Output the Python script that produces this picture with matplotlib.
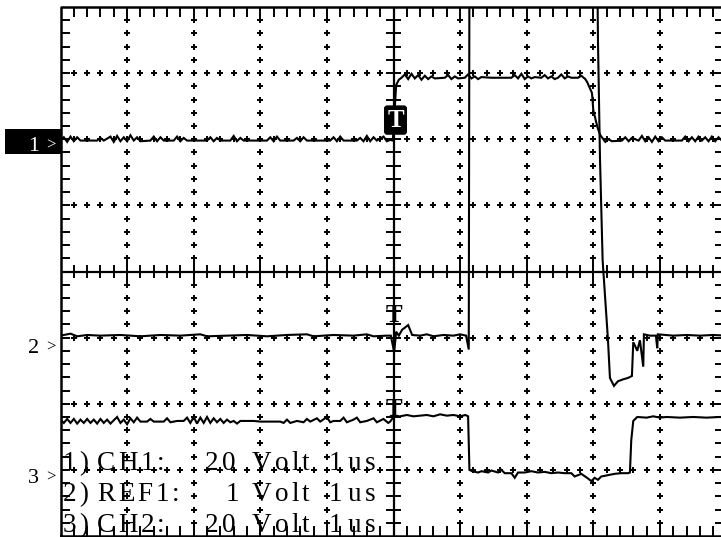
import numpy as np
import matplotlib
matplotlib.use("Agg")
import matplotlib.pyplot as plt
from matplotlib.patches import Rectangle

W, H = 721, 537
FONT = "Liberation Serif"

# scope screen: 10 div x 8 div, time in us (1 us/div), level in divisions
ch1_t = [0.00, 0.05, 0.10, 0.15, 0.20, 0.25, 0.30, 0.55, 0.60, 0.65, 0.75, 0.80, 0.85, 0.90,
         0.95, 1.00, 1.05, 1.10, 1.15, 1.20, 1.35, 1.40, 1.45, 1.50, 1.55, 1.70, 1.75, 1.80,
         1.85, 1.90, 2.20, 2.25, 2.30, 2.35, 2.40, 2.55, 2.60, 2.65, 2.70, 2.75, 3.10, 3.15,
         3.20, 3.25, 3.30, 3.50, 3.55, 3.60, 3.65, 3.70, 4.05, 4.10, 4.15, 4.20, 4.25, 4.45,
         4.50, 4.55, 4.60, 4.65, 4.70, 4.75, 4.85, 4.90, 4.95, 4.99, 5.04, 5.08, 5.12, 5.17,
         5.22, 5.27, 5.32, 5.37, 5.42, 5.47, 5.52, 5.57, 5.62, 5.77, 5.82, 5.87, 5.92, 5.97,
         6.07, 6.12, 6.17, 6.22, 6.27, 6.32, 6.47, 6.77, 6.82, 6.87, 6.92, 6.97, 7.02, 7.07,
         7.12, 7.22, 7.27, 7.32, 7.37, 7.42, 7.47, 7.52, 7.57, 7.62, 7.67, 7.77, 7.82, 7.88,
         7.91, 7.98, 8.00, 8.06, 8.10, 8.18, 8.23, 8.28, 8.43, 8.48, 8.53, 8.58, 8.68, 8.73,
         8.78, 8.83, 8.88, 8.93, 8.98, 9.03, 9.08, 9.33, 9.38, 9.43, 9.48, 9.53, 9.58, 9.63,
         9.68, 9.73, 9.78, 9.83, 9.88, 9.93, 10.0]
ch1_v = [1.98, 2.03, 1.96, 2.04, 1.97, 2.03, 1.98, 1.98, 2.02, 1.98, 2.04, 1.96, 2.05, 1.97,
         2.03, 1.97, 2.06, 1.98, 2.03, 1.97, 1.98, 2.04, 1.97, 2.03, 1.98, 1.98, 2.04, 1.97,
         2.02, 1.98, 1.98, 2.03, 1.97, 2.02, 1.98, 1.98, 2.05, 1.97, 2.02, 1.98, 1.98, 2.03,
         1.97, 2.04, 1.98, 1.98, 2.02, 1.97, 2.03, 1.98, 1.98, 2.03, 1.97, 2.04, 1.98, 1.98,
         2.02, 1.97, 2.05, 1.97, 2.03, 1.98, 2.04, 1.97, 1.99, 1.98, 2.82, 2.90, 2.93, 2.98,
         2.91, 2.99, 2.92, 2.97, 2.90, 2.96, 2.91, 2.95, 2.92, 2.93, 2.97, 2.91, 2.95, 2.92,
         2.93, 2.98, 2.92, 2.95, 2.91, 2.94, 2.93, 2.93, 2.97, 2.92, 2.99, 2.91, 2.95, 2.92,
         2.94, 2.93, 2.97, 2.92, 2.95, 2.91, 2.93, 2.98, 2.92, 2.95, 2.93, 2.93, 2.96, 2.91,
         2.86, 2.70, 2.44, 2.19, 2.07, 1.96, 2.00, 1.97, 1.98, 2.03, 1.97, 2.02, 1.98, 2.05,
         1.97, 2.03, 1.96, 2.04, 1.97, 2.03, 1.98, 1.98, 2.04, 1.97, 2.03, 1.97, 2.04, 1.98,
         2.03, 1.97, 2.04, 1.97, 2.03, 1.98, 2.03]

ref1_t = [0.00, 0.15, 0.25, 0.40, 0.60, 0.90, 1.20, 1.50, 1.80, 2.10, 2.20, 2.50, 2.80, 3.10,
          3.40, 3.70, 3.80, 4.10, 4.40, 4.60, 4.70, 4.90, 4.96, 5.01, 5.04, 5.08, 5.13, 5.17,
          5.22, 5.28, 5.40, 5.50, 5.60, 5.75, 5.90, 6.00, 6.09, 6.13, 6.14, 8.06, 8.07, 8.10,
          8.14, 8.22, 8.25, 8.31, 8.37, 8.45, 8.52, 8.58, 8.60, 8.63, 8.66, 8.70, 8.75, 8.76,
          8.85, 8.94, 8.96, 8.97, 9.20, 9.40, 9.60, 9.80, 10.0]
ref1_v = [-0.97, -0.94, -0.98, -0.96, -0.97, -0.96, -0.98, -0.96, -0.97, -0.95, -0.98, -0.97,
          -0.96, -0.98, -0.96, -0.95, -0.98, -0.96, -0.97, -0.95, -0.98, -0.97, -0.97, -1.22,
          -0.91, -0.97, -0.88, -0.85, -0.81, -0.96, -0.97, -0.95, -0.98, -0.96, -0.97, -0.95,
          -0.97, -1.18, 4.6, 4.6, 3.50, 1.73, 0.17, -1.03, -1.61, -1.73, -1.66, -1.63, -1.61,
          -1.58, -1.07, -1.13, -1.20, -1.04, -1.44, -0.95, -0.97, -0.97, -1.16, -0.95, -0.97,
          -0.96, -0.97, -0.96, -0.97]

ch2_t = [0.00, 0.05, 0.10, 0.15, 0.20, 0.25, 0.30, 0.35, 0.40, 0.45, 0.50, 0.55, 0.60, 0.65,
         0.70, 0.75, 0.80, 0.85, 0.90, 0.95, 1.00, 1.05, 1.10, 1.15, 1.20, 1.30, 1.35, 1.40,
         1.55, 1.60, 1.65, 1.75, 1.85, 1.90, 1.95, 2.00, 2.05, 2.10, 2.15, 2.20, 2.25, 2.30,
         2.35, 2.40, 2.45, 2.50, 2.55, 2.60, 2.65, 2.70, 2.90, 3.00, 3.30, 3.35, 3.40, 3.45,
         3.55, 3.65, 3.70, 3.75, 3.85, 3.90, 4.00, 4.05, 4.10, 4.20, 4.25, 4.30, 4.40, 4.45,
         4.50, 4.60, 4.70, 4.75, 4.85, 4.92, 4.95, 5.00, 5.10, 5.20, 5.30, 5.40, 5.50, 5.60,
         5.70, 5.80, 5.90, 6.00, 6.08, 6.12, 6.14, 6.18, 6.27, 6.32, 6.42, 6.47, 6.57, 6.62,
         6.67, 6.77, 6.82, 6.87, 6.97, 7.07, 7.17, 7.27, 7.37, 7.47, 7.57, 7.67, 7.72, 7.82,
         7.92, 7.97, 8.02, 8.07, 8.12, 8.22, 8.32, 8.42, 8.52, 8.55, 8.57, 8.60, 8.66, 8.80,
         8.90, 9.00, 9.10, 9.30, 9.50, 9.70, 9.90, 10.0]
ch2_v = [-2.24, -2.29, -2.23, -2.29, -2.23, -2.30, -2.24, -2.29, -2.23, -2.29, -2.24, -2.30,
         -2.23, -2.29, -2.24, -2.30, -2.25, -2.20, -2.29, -2.24, -2.31, -2.22, -2.28, -2.21,
         -2.27, -2.27, -2.23, -2.27, -2.27, -2.22, -2.28, -2.26, -2.26, -2.21, -2.29, -2.20,
         -2.30, -2.21, -2.29, -2.20, -2.29, -2.22, -2.28, -2.23, -2.29, -2.24, -2.28, -2.26,
         -2.30, -2.26, -2.26, -2.27, -2.27, -2.29, -2.24, -2.29, -2.26, -2.28, -2.23, -2.27,
         -2.22, -2.27, -2.20, -2.28, -2.26, -2.26, -2.21, -2.28, -2.24, -2.21, -2.28, -2.26,
         -2.22, -2.28, -2.23, -2.29, -2.27, -2.20, -2.19, -2.17, -2.19, -2.18, -2.17, -2.19,
         -2.16, -2.18, -2.17, -2.19, -2.17, -2.19, -3.00, -3.02, -3.04, -3.02, -3.04, -3.01,
         -3.04, -3.00, -3.05, -3.05, -3.12, -3.04, -3.04, -3.02, -3.04, -3.03, -3.05, -3.04,
         -3.05, -3.05, -3.10, -3.06, -3.13, -3.17, -3.12, -3.15, -3.10, -3.08, -3.06, -3.05,
         -3.05, -3.04, -2.55, -2.26, -2.20, -2.21, -2.19, -2.21, -2.20, -2.21, -2.20, -2.21,
         -2.20, -2.21]

trig_t = 5.0
left_markers = ["1", "2", "3"]
info_lines = [["1)", "CH1:", "20", "Volt", "1", "us"],
              ["2)", "REF1:", "1", "Volt", "1", "us"],
              ["3)", "CH2:", "20", "Volt", "1", "us"]]
# left pixel of each word on the scope screen
info_x = [[63, 97, 205, 252, 329, 348],
          [63, 97, 226, 252, 329, 348],
          [63, 97, 205, 252, 329, 348]]


def px_text(x, y, s, **kw):
    kw.setdefault("family", FONT)
    return fig.text(x / W, 1 - y / H, s, **kw)


fig = plt.figure(figsize=(W / 100, H / 100), dpi=100)
ax = fig.add_axes([60.5 / W, 1 / H, 666 / W, 529 / H])
ax.set_xlim(0, 10)
ax.set_ylim(-4, 4)
ax.axis("off")

k = dict(color="black", lw=1.4)
# frame + ticks on the frame
ax.plot([0, 10, 10, 0, 0], [-4, -4, 4, 4, -4], color="black", lw=1.8, clip_on=False)
fx = np.arange(1, 50) * 0.2
fy = np.arange(-19, 20) * 0.2
ax.vlines(fx, 3.85, 4, **k)
ax.vlines(fx, -4, -3.85, **k)
ax.hlines(fy, 0, 0.14, **k)
ax.hlines(fy, 9.83, 10, **k)

# centre axes
ax.axhline(0, color="black", lw=1.6)
ax.axvline(5, color="black", lw=1.6)
ax.vlines(fx, -0.1, 0.1, **k)
ax.vlines(np.arange(1, 10), -0.18, 0.18, **k)
ax.hlines(fy, 4.88, 5.12, **k)

# dotted graticule
for gy in [-3, -2, -1, 1, 2, 3]:
    ax.plot(fx, np.full(fx.size, gy), "+", color="black", ms=4.5, mew=1.4)
for gx in [1, 2, 3, 4, 6, 7, 8, 9]:
    ax.plot(np.full(fy.size, gx), fy, "+", color="black", ms=4.5, mew=1.4)

# traces
for t, v in [(ch1_t, ch1_v), (ref1_t, ref1_v), (ch2_t, ch2_v)]:
    ax.plot(t, v, color="black", lw=1.5, zorder=4, solid_joinstyle="miter")

# trigger marks
ax.text(trig_t + 0.03, 2.29, "T", color="white", fontsize=18, fontweight="bold", family=FONT,
        ha="center", va="center", zorder=6,
        bbox=dict(boxstyle="round,pad=0.1", fc="black", ec="black"))
ax.text(trig_t, -0.66, "T", color="black", fontsize=18, fontweight="bold", family=FONT,
        ha="center", va="center", zorder=6)
ax.text(trig_t, -2.08, "T", color="black", fontsize=18, fontweight="bold", family=FONT,
        ha="center", va="center", zorder=6)

# channel markers on the left
fig.add_artist(Rectangle((5 / W, 1 - 154 / H), 56 / W, 25 / H, transform=fig.transFigure,
                         fc="black", ec="none"))
for lab, base, col in zip(left_markers, [151, 353, 483], ["white", "black", "black"]):
    px_text(33.5, base, lab, color=col, fontsize=16, ha="center", va="baseline")
    px_text(51, base - 1, ">", color=col, fontsize=12, ha="center", va="baseline")

# settings text: scope font is letter-spaced, so set each word with tracking
rend = fig.canvas.get_renderer()
track = 3.0
for words, xs, base in zip(info_lines, info_x, [470, 501, 532]):
    for word, x in zip(words, xs):
        for c in word:
            t = px_text(x, base, c, color="black", fontsize=19.5, ha="left",
                        va="baseline", zorder=7)
            x += t.get_window_extent(rend).width + track

fig.savefig("out.png", dpi=100)
